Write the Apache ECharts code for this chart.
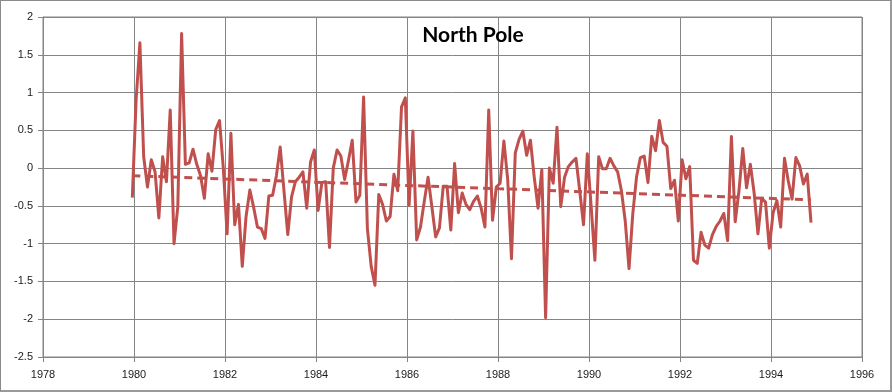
<!DOCTYPE html>
<html>
<head>
<meta charset="utf-8">
<script src="https://cdn.jsdelivr.net/npm/echarts@6/dist/echarts.min.js"></script>
<style>
html,body{margin:0;padding:0;background:#fff;}
#chart{position:absolute;left:0;top:0;width:892px;height:392px;}
#frame{position:absolute;left:0;top:0;width:889px;height:389px;border:1px solid #8a8a8a;border-right:2px solid #9a9a9a;border-bottom:2px solid #9a9a9a;pointer-events:none;}
</style>
</head>
<body>
<div id="chart"></div>
<div id="frame"></div>
<script>
const title = "North Pole";
const firstYear = 1979.963;   // decimal year of first monthly point
const monthStep = 1 / 12;
const anomalies = [
 -0.39, 0.90, 1.66, 0.15, -0.25, 0.11, -0.05, -0.66, 0.15, -0.18, 0.77, -1.00,
 -0.51, 1.78, 0.05, 0.07, 0.25, 0.05, -0.10, -0.40, 0.19, -0.04, 0.51, 0.63,
 0.00, -0.87, 0.46, -0.75, -0.48, -1.30, -0.64, -0.29, -0.52, -0.78, -0.80, -0.93,
 -0.37, -0.36, -0.10, 0.28, -0.30, -0.88, -0.38, -0.18, -0.12, -0.05, -0.53, 0.08,
 0.24, -0.56, -0.19, -0.18, -1.05, 0.00, 0.24, 0.16, -0.15, 0.10, 0.37, -0.45,
 -0.36, 0.94, -0.80, -1.30, -1.55, -0.35, -0.48, -0.70, -0.64, -0.08, -0.30, 0.81,
 0.93, -0.49, 0.49, -0.95, -0.78, -0.44, -0.12, -0.51, -0.91, -0.79, -0.24, -0.24,
 -0.82, 0.06, -0.59, -0.33, -0.48, -0.55, -0.44, -0.37, -0.53, -0.78, 0.77, -0.69,
 -0.25, -0.20, 0.36, -0.15, -1.20, 0.20, 0.38, 0.49, 0.17, 0.37, -0.12, -0.53,
 -0.02, -1.98, 0.00, -0.20, 0.54, -0.51, -0.12, 0.02, 0.08, 0.13, -0.30, -0.75,
 0.19, -0.50, -1.22, 0.15, -0.01, -0.01, 0.13, 0.03, -0.05, -0.30, -0.70, -1.33,
 -0.60, -0.11, 0.14, 0.16, -0.19, 0.42, 0.23, 0.63, 0.34, 0.29, -0.27, -0.16,
 -0.70, 0.11, -0.14, 0.02, -1.22, -1.26, -0.85, -1.02, -1.06, -0.88, -0.77, -0.70,
 -0.60, -0.96, 0.42, -0.71, -0.30, 0.26, -0.26, 0.05, -0.33, -0.87, -0.40, -0.45,
 -1.06, -0.59, -0.43, -0.78, 0.13, -0.17, -0.41, 0.14, 0.03, -0.21, -0.08, -0.72
];
const trendEnds = [-0.10, -0.42];   // trend line value at first and last point
const xTicks = {min: 1978, max: 1996, step: 2};
const yTicks = {min: -2.5, max: 2, step: 0.5};

const seriesData = anomalies.map((v, i) => [firstYear + i * monthStep, v]);
const lastX = firstYear + (anomalies.length - 1) * monthStep;
const trendData = [[firstYear, trendEnds[0]], [lastX, trendEnds[1]]];

const red = '#C0504D';
const gridColor = '#858585';
const labelFont = {color: '#1a1a1a', fontFamily: 'Liberation Sans, Arial, sans-serif', fontSize: 11};

const chart = echarts.init(document.getElementById('chart'), null, {renderer: 'canvas'});
chart.setOption({
  animation: false,
  backgroundColor: '#fff',
  title: {
    text: title, left: 468, top: 20, textAlign: 'center',
    textStyle: {fontFamily: 'Lato, Open Sans, sans-serif', fontWeight: 'bold', fontSize: 21, color: '#000'}
  },
  grid: {left: 43, right: 30, top: 17, bottom: 35, show: true, borderColor: gridColor, borderWidth: 1},
  xAxis: {
    type: 'value', min: xTicks.min, max: xTicks.max, interval: xTicks.step,
    axisLine: {show: true, onZero: false, lineStyle: {color: gridColor}},
    axisTick: {show: true, length: 5, lineStyle: {color: gridColor}},
    splitLine: {show: true, lineStyle: {color: gridColor, width: 1}},
    axisLabel: Object.assign({margin: 12, formatter: v => String(Math.round(v))}, labelFont)
  },
  yAxis: {
    type: 'value', min: yTicks.min, max: yTicks.max, interval: yTicks.step,
    axisLine: {show: true, onZero: false, lineStyle: {color: gridColor}},
    axisTick: {show: true, length: 5, lineStyle: {color: gridColor}},
    splitLine: {show: true, lineStyle: {color: gridColor, width: 1}},
    axisLabel: Object.assign({margin: 10}, labelFont)
  },
  series: [
    {
      type: 'line', data: seriesData, showSymbol: false, symbol: 'none',
      lineStyle: {color: red, width: 3, join: 'round'}, z: 3
    },
    {
      type: 'line', data: trendData, showSymbol: false, symbol: 'none',
      lineStyle: {color: red, width: 3, type: [8, 5]}, z: 4
    }
  ]
});
</script>
</body>
</html>
